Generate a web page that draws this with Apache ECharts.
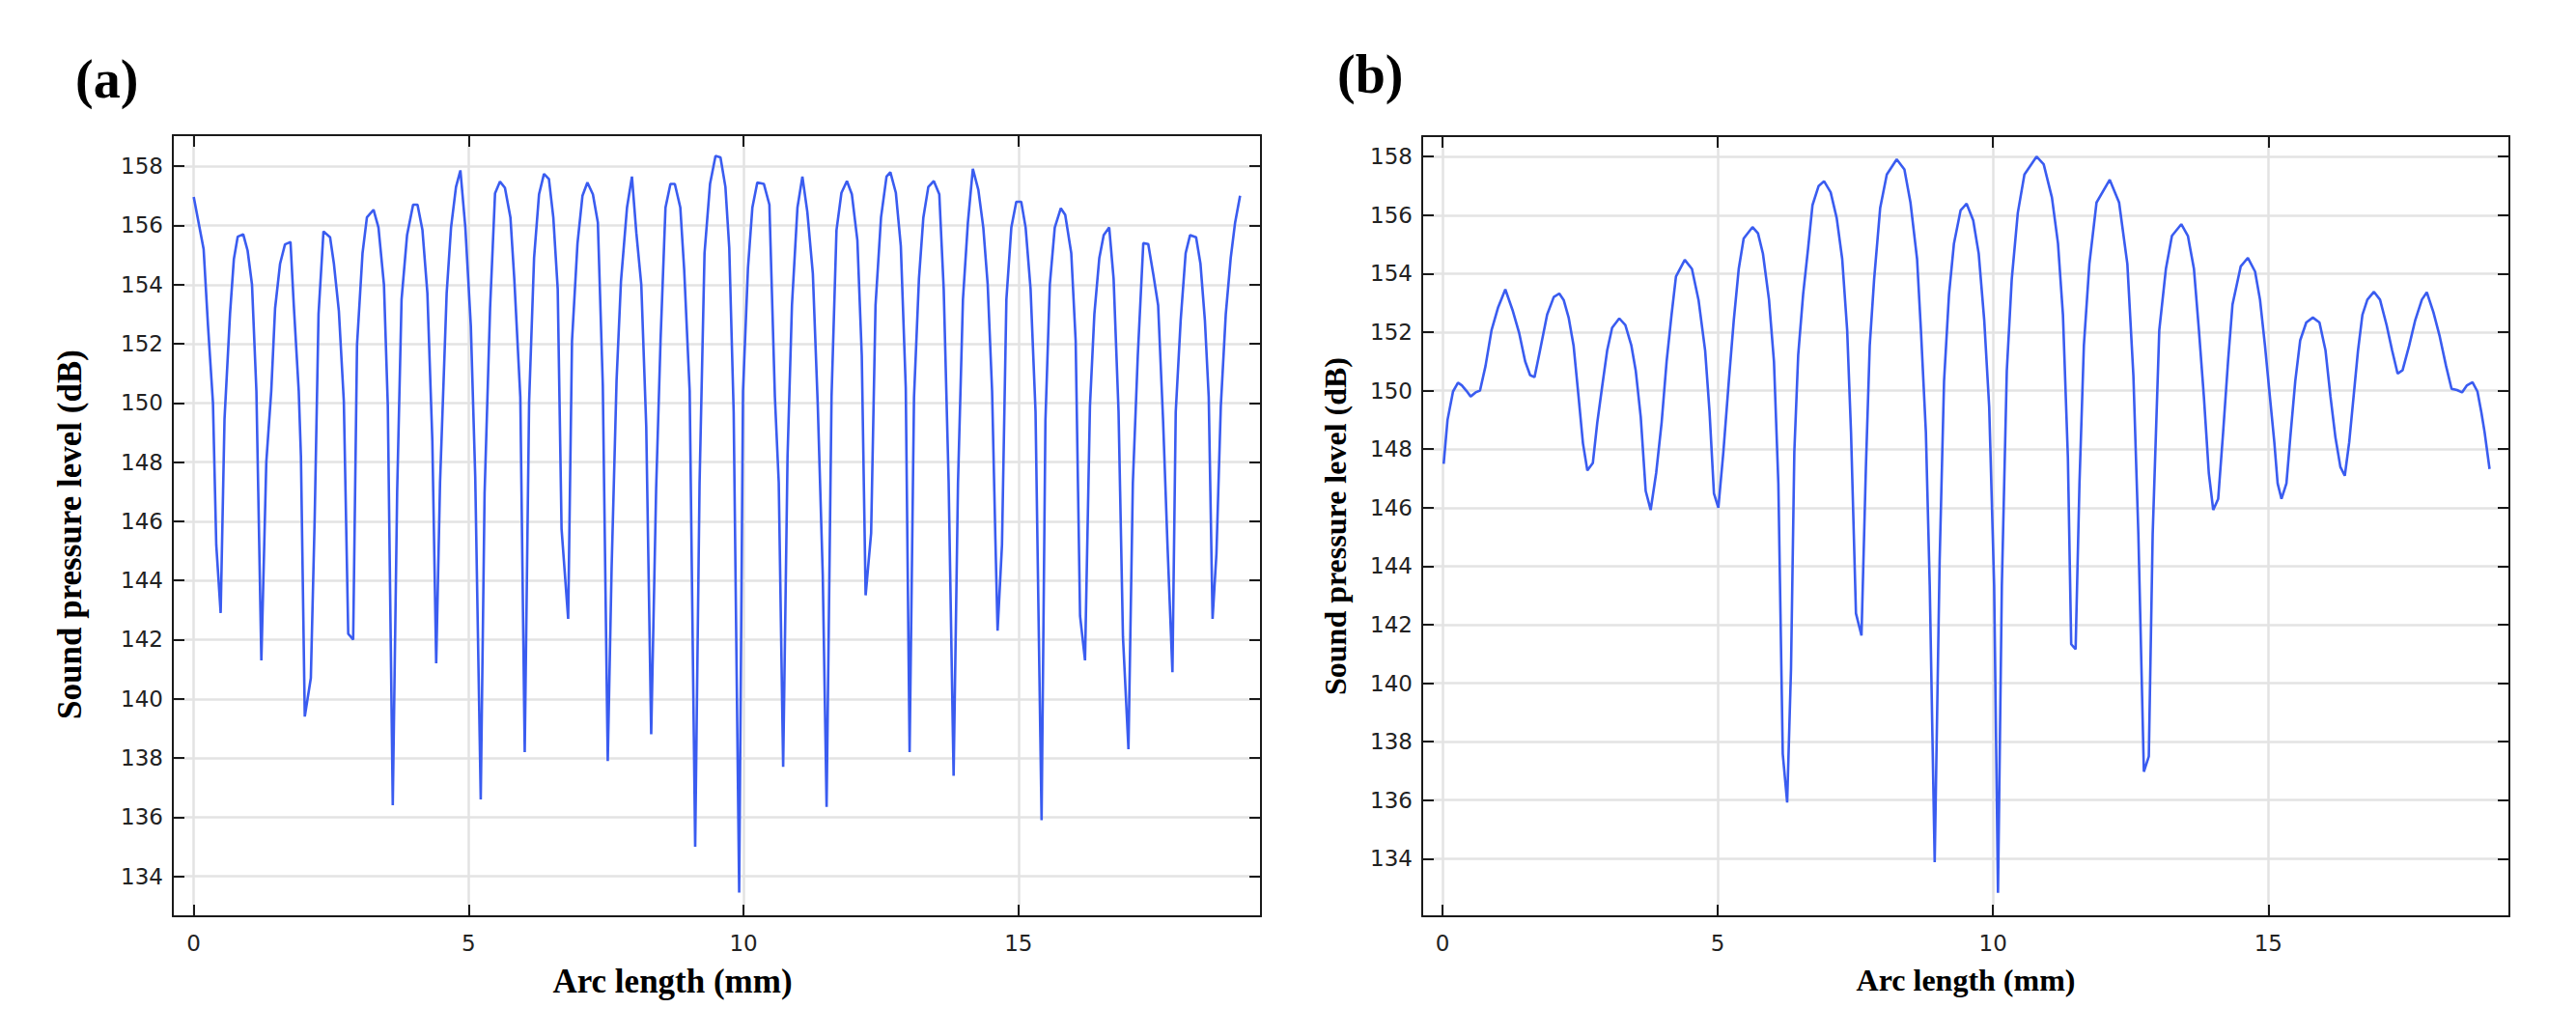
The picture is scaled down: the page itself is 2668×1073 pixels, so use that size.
<!DOCTYPE html>
<html>
<head>
<meta charset="utf-8">
<script src="https://cdn.jsdelivr.net/npm/echarts@6/dist/echarts.min.js"></script>
<style>
  html, body { margin: 0; padding: 0; background: #fff; }
  #chart { width: 2668px; height: 1073px; }
</style>
</head>
<body>
<div id="chart"></div>
<script>
    // (a) arc length (mm) / sound pressure level (dB)
    const arcA = [
        0.00, 0.18, 0.26, 0.35, 0.41, 0.49, 0.56, 0.66, 0.73, 0.80, 0.90, 0.98, 1.06, 1.14, 1.23, 1.32, 1.41, 1.48, 1.57, 1.66,
        1.76, 1.82, 1.91, 1.95, 2.02, 2.13, 2.20, 2.27, 2.36, 2.48, 2.55, 2.64, 2.73, 2.81, 2.90, 2.97, 3.07, 3.15, 3.27, 3.36,
        3.46, 3.53, 3.62, 3.70, 3.78, 3.88, 3.99, 4.07, 4.16, 4.25, 4.34, 4.41, 4.48, 4.60, 4.68, 4.77, 4.85, 4.94, 5.04, 5.12,
        5.22, 5.29, 5.39, 5.48, 5.57, 5.66, 5.76, 5.83, 5.94, 6.02, 6.10, 6.19, 6.28, 6.37, 6.46, 6.54, 6.62, 6.69, 6.81, 6.88,
        6.98, 7.07, 7.16, 7.26, 7.35, 7.44, 7.53, 7.60, 7.69, 7.77, 7.88, 7.97, 8.05, 8.14, 8.23, 8.32, 8.41, 8.49, 8.58, 8.67,
        8.75, 8.85, 8.92, 9.02, 9.12, 9.20, 9.29, 9.39, 9.49, 9.58, 9.67, 9.74, 9.82, 9.92, 9.99, 10.08, 10.16, 10.25, 10.37, 10.47,
        10.57, 10.64, 10.72, 10.80, 10.88, 10.98, 11.07, 11.16, 11.26, 11.35, 11.44, 11.51, 11.60, 11.69, 11.78, 11.88, 11.97, 12.07, 12.15, 12.22,
        12.32, 12.40, 12.50, 12.60, 12.67, 12.77, 12.86, 12.95, 13.02, 13.10, 13.19, 13.27, 13.36, 13.46, 13.56, 13.64, 13.73, 13.82, 13.90, 13.99,
        14.08, 14.17, 14.27, 14.36, 14.44, 14.52, 14.58, 14.62, 14.70, 14.78, 14.87, 14.96, 15.05, 15.13, 15.22, 15.31, 15.42, 15.49, 15.57, 15.66,
        15.77, 15.85, 15.96, 16.04, 16.12, 16.21, 16.30, 16.38, 16.47, 16.55, 16.65, 16.73, 16.82, 16.90, 17.00, 17.08, 17.17, 17.27, 17.36, 17.45,
        17.54, 17.63, 17.71, 17.80, 17.86, 17.95, 18.04, 18.12, 18.23, 18.31, 18.39, 18.46, 18.53, 18.60, 18.68, 18.77, 18.86, 18.94, 19.03
    ];
    const splA = [
        156.96, 155.2, 152.6, 150.0, 145.2, 142.9, 149.45, 153.0, 154.86, 155.62, 155.7, 155.15, 154.0, 150.4, 141.3, 148.0, 150.4, 153.2, 154.7, 155.36,
        155.44, 153.3, 150.4, 148.2, 139.4, 140.7, 146.1, 153.0, 155.8, 155.6, 154.7, 153.1, 150.05, 142.2, 142.0, 151.96, 155.06, 156.27, 156.53, 155.93,
        154.0, 149.9, 136.4, 147.0, 153.5, 155.67, 156.7, 156.7, 155.84, 153.7, 148.7, 141.2, 147.3, 153.7, 155.93, 157.3, 157.86, 155.93, 152.6, 147.5,
        136.6, 146.95, 153.2, 157.08, 157.48, 157.27, 156.27, 154.2, 150.2, 138.2, 150.05, 154.9, 157.05, 157.74, 157.57, 156.27, 153.85, 145.74, 142.7, 152.1,
        155.4, 157.0, 157.45, 157.05, 156.1, 150.6, 137.9, 144.4, 150.75, 154.1, 156.6, 157.65, 155.75, 154.0, 149.2, 138.8, 147.1, 152.1, 156.6, 157.4,
        157.4, 156.6, 154.5, 150.4, 135.0, 147.3, 155.06, 157.4, 158.35, 158.3, 157.3, 155.24, 149.7, 133.45, 150.4, 154.55, 156.6, 157.45, 157.4, 156.7,
        150.2, 147.3, 137.7, 148.2, 153.3, 156.6, 157.65, 156.45, 154.37, 149.9, 144.2, 136.35, 150.2, 155.84, 157.1, 157.5, 157.05, 155.5, 151.6, 143.5,
        145.6, 153.3, 156.27, 157.65, 157.8, 157.1, 155.3, 150.5, 138.2, 150.2, 154.2, 156.27, 157.3, 157.5, 157.05, 153.85, 147.3, 137.4, 147.3, 153.5,
        156.1, 157.91, 157.2, 155.93, 154.0, 150.4, 145.4, 142.3, 145.2, 153.5, 155.93, 156.8, 156.8, 155.93, 153.85, 149.7, 135.9, 149.4, 154.0, 155.93,
        156.58, 156.36, 155.06, 152.1, 142.8, 141.3, 149.9, 153.0, 154.9, 155.67, 155.93, 154.2, 149.7, 142.1, 138.3, 147.3, 151.6, 155.4, 155.37, 154.37,
        153.3, 149.4, 145.2, 140.9, 149.7, 152.8, 155.06, 155.67, 155.6, 154.7, 152.8, 150.2, 142.7, 144.9, 149.9, 153.0, 154.9, 156.1, 157.0
    ];

    // (b) arc length (mm) / sound pressure level (dB)
    const arcB = [
        0.02, 0.09, 0.19, 0.28, 0.35, 0.43, 0.51, 0.60, 0.68, 0.78, 0.89, 1.01, 1.14, 1.27, 1.39, 1.50, 1.59, 1.67, 1.77, 1.90,
        2.02, 2.12, 2.20, 2.29, 2.38, 2.47, 2.55, 2.63, 2.73, 2.81, 2.90, 2.99, 3.08, 3.21, 3.32, 3.43, 3.51, 3.60, 3.69, 3.78,
        3.88, 3.98, 4.07, 4.16, 4.24, 4.40, 4.53, 4.65, 4.77, 4.85, 4.93, 5.01, 5.10, 5.20, 5.29, 5.38, 5.47, 5.63, 5.73, 5.82,
        5.93, 6.02, 6.10, 6.18, 6.26, 6.33, 6.39, 6.46, 6.55, 6.64, 6.72, 6.83, 6.93, 7.05, 7.16, 7.26, 7.35, 7.42, 7.51, 7.61,
        7.69, 7.76, 7.84, 7.95, 8.07, 8.25, 8.39, 8.50, 8.62, 8.69, 8.78, 8.85, 8.94, 9.03, 9.11, 9.20, 9.29, 9.41, 9.52, 9.64,
        9.74, 9.84, 9.93, 10.02, 10.09, 10.16, 10.25, 10.34, 10.45, 10.57, 10.79, 10.92, 11.07, 11.18, 11.27, 11.36, 11.42, 11.50, 11.57, 11.65,
        11.75, 11.88, 12.12, 12.29, 12.44, 12.55, 12.64, 12.74, 12.83, 12.90, 13.02, 13.14, 13.25, 13.42, 13.54, 13.65, 13.74, 13.83, 13.92, 14.00,
        14.09, 14.18, 14.27, 14.35, 14.50, 14.63, 14.76, 14.85, 14.94, 15.02, 15.11, 15.17, 15.24, 15.33, 15.40, 15.49, 15.58, 15.69, 15.81, 15.93,
        16.04, 16.13, 16.22, 16.31, 16.39, 16.47, 16.55, 16.63, 16.71, 16.80, 16.92, 17.03, 17.15, 17.25, 17.35, 17.44, 17.56, 17.67, 17.79, 17.88,
        18.00, 18.11, 18.23, 18.33, 18.43, 18.52, 18.61, 18.71, 18.80, 18.87, 18.93, 19.02
    ];
    const splB = [
        147.5, 149.0, 149.97, 150.27, 150.18, 150.0, 149.8, 149.94, 150.0, 150.84, 152.07, 152.85, 153.46, 152.76, 151.98, 151.0, 150.53, 150.46, 151.37, 152.6,
        153.2, 153.32, 153.1, 152.5, 151.54, 149.8, 148.2, 147.27, 147.53, 148.9, 150.15, 151.37, 152.15, 152.47, 152.24, 151.54, 150.67, 149.1, 146.57, 145.92,
        147.18, 148.92, 151.0, 152.6, 153.9, 154.47, 154.16, 153.1, 151.37, 149.27, 146.48, 146.0, 147.88, 150.32, 152.4, 154.16, 155.2, 155.59, 155.38, 154.68,
        153.11, 151.0, 146.83, 137.58, 135.92, 140.5, 147.9, 151.2, 153.29, 154.86, 156.34, 156.99, 157.16, 156.78, 155.9, 154.5, 152.07, 148.58, 142.38, 141.63,
        147.35, 151.54, 153.81, 156.25, 157.39, 157.91, 157.56, 156.43, 154.5, 152.07, 148.58, 143.34, 133.88, 144.2, 150.32, 153.29, 155.03, 156.16, 156.39, 155.82,
        154.68, 152.41, 149.45, 143.34, 132.83, 143.34, 150.67, 153.81, 156.08, 157.39, 158.0, 157.74, 156.6, 155.03, 152.59, 147.7, 141.33, 141.16, 146.83, 151.54,
        154.33, 156.43, 157.21, 156.43, 154.33, 150.5, 145.09, 136.97, 137.5, 145.09, 152.07, 154.16, 155.29, 155.69, 155.29, 154.16, 152.07, 149.8, 147.18, 145.92,
        146.3, 148.58, 151.02, 152.94, 154.25, 154.54, 154.07, 153.11, 151.54, 149.97, 148.23, 146.83, 146.3, 146.83, 148.4, 150.32, 151.72, 152.33, 152.5, 152.33,
        151.37, 149.8, 148.4, 147.39, 147.09, 148.23, 149.8, 151.37, 152.59, 153.11, 153.38, 153.11, 152.24, 151.37, 150.58, 150.7, 151.54, 152.41, 153.11, 153.36,
        152.68, 151.89, 150.84, 150.06, 150.02, 149.94, 150.18, 150.29, 149.97, 149.27, 148.58, 147.32
    ];

    // axis ranges
    const xRangeA = [-0.38, 19.41];
    const yRangeA = [132.65, 159.05];
    const xRangeB = [-0.37, 19.38];
    const yRangeB = [132.03, 158.70];

    const frameColor = '#1a1a1a';
    const gridColor = '#e3e3e3';
    const lineColor = '#3a5cf0';

    const isWhole = v => Math.abs(v - Math.round(v)) < 1e-6;

    // one pair of visible axes + one pair of mirror axes (top / right) per panel
    function makeAxes(gi, xr, yr, nameSize, xNamePad, yNameGap, yNamePad) {
        const tick = { inside: true, length: 12, lineStyle: { color: frameColor, width: 2 } };
        const line = { onZero: false, lineStyle: { color: frameColor, width: 2 } };
        const tickFont = { color: '#222', fontFamily: 'DejaVu Sans', fontSize: 23 };
        const nameFont = {
            color: '#000', fontFamily: 'Liberation Serif', fontWeight: 'bold', fontSize: nameSize
        };
        const split = { show: true, showMinLine: false, showMaxLine: false, lineStyle: { color: gridColor, width: 2.5 } };
        const xCommon = { type: 'value', gridIndex: gi, min: xr[0], max: xr[1], splitNumber: 4, minInterval: 5, maxInterval: 5 };
        const yCommon = { type: 'value', gridIndex: gi, min: yr[0], max: yr[1], splitNumber: 13, minInterval: 2, maxInterval: 2 };
        return {
            x: [
                Object.assign({}, xCommon, {
                    position: 'bottom',
                    name: 'Arc length (mm)',
                    nameLocation: 'middle',
                    nameGap: 50,
                    nameTextStyle: Object.assign({ padding: xNamePad }, nameFont),
                    axisLine: line,
                    axisTick: tick,
                    axisLabel: Object.assign({
                        margin: 16, showMinLabel: false, showMaxLabel: false,
                        formatter: v => isWhole(v) ? String(Math.round(v)) : ''
                    }, tickFont),
                    splitLine: split
                }),
                Object.assign({}, xCommon, {
                    position: 'top',
                    axisLine: line,
                    axisTick: tick,
                    axisLabel: { show: false },
                    splitLine: { show: false }
                })
            ],
            y: [
                Object.assign({}, yCommon, {
                    position: 'left',
                    name: 'Sound pressure level (dB)',
                    nameLocation: 'middle',
                    nameRotate: 90,
                    nameGap: yNameGap,
                    nameTextStyle: Object.assign({ padding: yNamePad }, nameFont),
                    axisLine: line,
                    axisTick: tick,
                    axisLabel: Object.assign({
                        margin: 10, showMinLabel: false, showMaxLabel: false,
                        formatter: v => isWhole(v) ? String(Math.round(v)) : ''
                    }, tickFont),
                    splitLine: split
                }),
                Object.assign({}, yCommon, {
                    position: 'right',
                    axisLine: line,
                    axisTick: tick,
                    axisLabel: { show: false },
                    splitLine: { show: false }
                })
            ]
        };
    }

    const axA = makeAxes(0, xRangeA, yRangeA, 35, [0, 92, 0, 0], 89, [0, 18, 0, 0]);
    const axB = makeAxes(1, xRangeB, yRangeB, 32, [0, 0, 0, 0], 74, [0, 0, 0, 0]);

    const zip = (xs, ys) => xs.map((x, i) => [x, ys[i]]);

    const chart = echarts.init(document.getElementById('chart'), null, { renderer: 'svg' });

    chart.setOption({
        backgroundColor: '#fff',
        animation: false,
        grid: [
            { left: 179, top: 140, width: 1127, height: 809 },
            { left: 1473, top: 141, width: 1126, height: 808 }
        ],
        xAxis: axA.x.concat(axB.x),
        yAxis: axA.y.concat(axB.y),
        graphic: [
            {
                type: 'text', x: 78, y: 82,
                style: { text: '(a)', font: 'bold 56px "Liberation Serif"', fill: '#000', verticalAlign: 'middle' }
            },
            {
                type: 'text', x: 1385, y: 77,
                style: { text: '(b)', font: 'bold 56px "Liberation Serif"', fill: '#000', verticalAlign: 'middle' }
            }
        ],
        series: [
            {
                type: 'line', xAxisIndex: 0, yAxisIndex: 0,
                showSymbol: false,
                lineStyle: { color: lineColor, width: 2.6 },
                data: zip(arcA, splA)
            },
            {
                type: 'line', xAxisIndex: 2, yAxisIndex: 2,
                showSymbol: false,
                lineStyle: { color: lineColor, width: 2.6 },
                data: zip(arcB, splB)
            }
        ]
    });
</script>
</body>
</html>
